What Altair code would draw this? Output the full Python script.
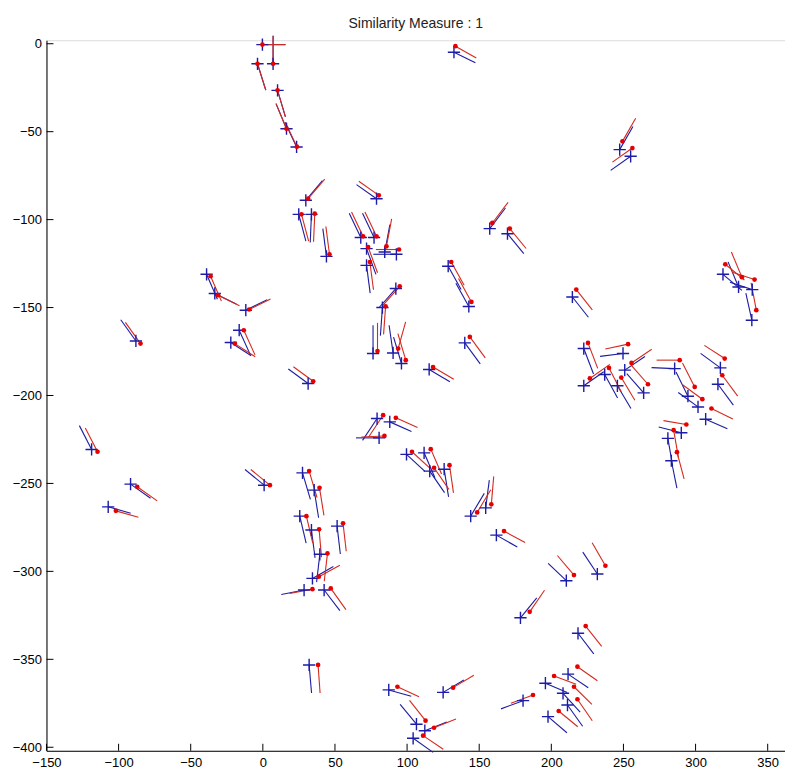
import altair as alt
import pandas as pd

# Minutiae of the template print (blue) and of the query print (red):
# position in pixels of the print image and ridge direction in degrees.
blue_x = [-0.3, 7.1, -3.7, 10.2, 16.4, 23.4,
          -39.0, -33.3, -11.8, -16.4, -22.2, -88.0, -118.7, -91.7, -107.2, 0.9,
          132.5, 29.8, 24.9, 33.7, 44.1, 78.8, 67.9, 77.1, 71.9, 71.9, 84.5, 92.6,
          128.5, 142.8, 157.3, 169.6, 92.2, 82.9, 76.4, 90.3, 96.1, 140.0, 115.3, 31.4,
          247.4, 255.0, 214.6,
          319.0, 329.8, 339.3, 339.0,
          222.5, 222.5, 237.0, 245.8, 249.7, 250.9, 264.0, 285.5, 294.7, 301.7, 307.0, 317.2, 315.5,
          290.1, 280.8, 283.2,
          210.4, 231.9, 178.6, 218.5,
          211.6, 195.9, 208.1, 211.2, 197.7, 180.4,
          79.2, 88.0, 80.6,
          99.6, 111.8, 115.7, 125.7,
          144.1, 154.5, 161.9,
          27.5, 35.6, 25.6, 33.7, 51.5, 39.5, 34.4, 28.6, 42.5, 32.1,
          87.3, 106.5, 112.3, 104.2, 125.0]
blue_y = [-0.5, -11.4, -11.4, -26.5, -48.3, -58.7,
          -131.1, -142.0, -151.5, -162.9, -169.9, -169.0, -230.7, -250.4, -263.3, -251.0,
          -4.8, -89.0, -97.0, -97.0, -120.9, -88.1, -110.2, -110.2, -116.5, -126.0, -118.4, -119.7,
          -126.5, -149.4, -105.1, -108.0, -139.2, -150.0, -176.1, -175.8, -181.8, -170.1, -185.2, -193.2,
          -60.2, -64.0, -144.0,
          -131.1, -138.3, -139.8, -157.2,
          -173.3, -194.5, -188.1, -194.5, -176.1, -185.6, -198.5, -184.7, -200.4, -206.5, -213.5, -184.3, -193.6,
          -221.2, -224.4, -237.1,
          -305.3, -301.5, -326.4, -335.2,
          -358.4, -363.6, -369.3, -376.0, -382.6, -373.5,
          -213.1, -215.0, -224.1,
          -233.5, -232.6, -243.0, -241.9,
          -268.6, -263.9, -279.4,
          -244.0, -253.8, -268.6, -276.5, -274.3, -290.3, -304.0, -310.6, -310.6, -353.2,
          -367.4, -386.9, -390.6, -394.9, -368.8]
blue_angle = [0, 90, -69, -70, 117, 120,
              -62, -22, 22, -61, -28, 131, 122, -30, -13, 146,
              -22, 44, -72, -93, 99, 150, 120, 120, -66, -81, 77, 180,
              -56, 124, 47, -45, 223, -95, 90, 100, 110, -48, -26, 149,
              55, 210, -46,
              -35, 117, 165, 105,
              -65, 30, -56, -54, 186, 29, 137, 178, 121, 149, -20, 149, -48,
              168, -78, -76,
              142, 129, 45, -47,
              -29, -19, -42, -49, -35, 197,
              231, -20, 180,
              -37, -62, -50, -79,
              54, 81, -25,
              -70, -79, -74, -81, -82, -98, 25, 189, -47, -84,
              -13, 135, 18, -30, 26]

red_x = [-0.3, 7.1, -3.7, 10.2, 16.4, 23.6,
         -36.2, -31.0, -9.5, -13.2, -19.4, -84.8, -114.6, -87.1, -101.9, 4.9,
         133.5, 31.4, 26.8, 36.0, 46.2, 80.4, 69.5, 78.8, 73.0, 74.2, 85.7, 94.4,
         130.6, 144.6, 159.1, 171.2, 94.9, 85.1, 79.5, 93.8, 99.1, 143.5, 118.0, 34.9,
         249.3, 256.2, 217.3,
         320.6, 332.1, 340.9, 342.1,
         225.4, 226.7, 240.0, 248.5, 253.2, 255.6, 267.0, 289.0, 299.4, 304.7, 311.0, 320.2, 318.5,
         293.6, 284.8, 287.1,
         215.7, 237.5, 185.0, 223.8,
         218.1, 201.9, 215.7, 218.1, 205.1, 187.3,
         83.4, 92.2, 84.3,
         103.4, 116.4, 118.7, 129.4,
         148.6, 158.4, 167.2,
         32.1, 39.3, 30.2, 39.0, 55.6, 44.8, 38.8, 34.4, 47.1, 38.3,
         93.3, 112.8, 118.7, 111.1, 131.9]
red_y = [-0.5, -11.4, -11.4, -26.5, -48.3, -58.5,
         -132.2, -143.0, -151.1, -162.9, -170.5, -170.5, -232.0, -251.9, -265.6, -251.0,
         -1.4, -88.1, -97.0, -96.6, -119.7, -86.2, -109.5, -109.5, -115.6, -124.1, -115.2, -117.0,
         -124.1, -146.8, -101.9, -105.1, -137.9, -149.3, -174.7, -173.3, -179.9, -166.7, -183.8, -191.9,
         -55.5, -59.3, -139.8,
         -125.4, -132.7, -134.1, -151.5,
         -170.1, -190.3, -184.3, -189.8, -170.8, -181.5, -193.6, -179.9, -195.1, -202.1, -207.4, -179.0, -188.5,
         -216.5, -219.7, -232.2,
         -302.1, -296.8, -323.0, -331.1,
         -354.2, -359.5, -365.6, -372.7, -379.4, -370.3,
         -211.2, -212.7, -223.0,
         -232.0, -230.5, -241.1, -239.6,
         -266.5, -261.9, -277.1,
         -243.0, -252.5, -268.6, -276.1, -272.7, -289.8, -303.0, -310.1, -309.7, -353.2,
         -365.6, -384.9, -388.9, -393.4, -366.1]
red_angle = [0, 90, -69, -70, 117, 120,
             -62, -22, 22, -61, -28, 131, 122, -30, -13, 146,
             -25, 44, -72, -93, 99, 150, 120, 120, -66, -81, 77, 180,
             -56, 124, 47, -45, 223, -95, 90, 71, 110, -48, -26, 149,
             55, 210, -46,
             -34, 117, 165, 103,
             -65, 30, -58, -54, 190, 29, 137, 180, 122, 149, -22, 152, -48,
             172, -78, -72,
             136, 125, 50, -46,
             -30, -17, -39, -50, -34, 197,
             231, -20, 182,
             -37, -62, -50, -80,
             54, 84, -24,
             -70, -79, -74, -84, -82, -98, 24, 189, -49, -85,
             -21, 134, 18, -29, 26]

x_ticks = list(range(-150, 351, 50))
y_ticks = list(range(-400, 1, 50))

SEG = 16  # length of the direction stroke, in data units
W, H = 739, 711
FONT = "Liberation Sans"

xs = alt.Scale(domain=[-150, 362], nice=False, zero=False)
ys = alt.Scale(domain=[-402, 2], nice=False, zero=False)

x_axis = alt.Axis(values=x_ticks, tickSize=0, labelPadding=6, grid=False, title=None,
                  domainColor="black", domainWidth=1, labelColor="black", labelFontSize=13,
                  labelFont=FONT, labelFlush=False)
y_axis = alt.Axis(values=y_ticks, tickSize=0, labelPadding=5, grid=False, title=None,
                  domainColor="black", domainWidth=1, labelColor="black", labelFontSize=13,
                  labelFont=FONT, labelFlush=False)


def X(field):
    return alt.X(field, type="quantitative", scale=xs, axis=x_axis, title=None)


def Y(field):
    return alt.Y(field, type="quantitative", scale=ys, axis=y_axis, title=None)


blue = pd.DataFrame({"x": blue_x, "y": blue_y, "a": blue_angle})
red = pd.DataFrame({"x": red_x, "y": red_y, "a": red_angle})


def strokes(df, color):
    return (
        alt.Chart(df)
        .transform_calculate(
            x2=f"datum.x + {SEG} * cos(datum.a * PI / 180)",
            y2=f"datum.y + {SEG} * sin(datum.a * PI / 180)",
        )
        .mark_rule(color=color, strokeWidth=1.1)
        .encode(x=X("x"), y=Y("y"), x2="x2:Q", y2="y2:Q")
    )


# inward-pointing tick marks
xtick = (
    alt.Chart(pd.DataFrame({"x": x_ticks}))
    .mark_rule(color="black", strokeWidth=1)
    .encode(x=X("x"), y=alt.value(H), y2=alt.value(H - 7))
)
ytick = (
    alt.Chart(pd.DataFrame({"y": y_ticks}))
    .mark_rule(color="black", strokeWidth=1)
    .encode(y=Y("y"), x=alt.value(0), x2=alt.value(7))
)

plus = "M-1,0L1,0M0,-1L0,1"
blue_pts = (
    alt.Chart(blue)
    .mark_point(shape=plus, size=150, filled=False, color="#1c1ca8", strokeWidth=1.4, opacity=1)
    .encode(x=X("x"), y=Y("y"))
)
red_pts = (
    alt.Chart(red)
    .mark_point(shape="circle", size=22, filled=True, color="#e60000", opacity=1)
    .encode(x=X("x"), y=Y("y"))
)

chart = (
    alt.layer(xtick, ytick, strokes(blue, "#1c1ca0"), strokes(red, "#d42a1e"), blue_pts, red_pts)
    .properties(
        width=W,
        height=H,
        title=alt.TitleParams("Similarity Measure : 1", fontSize=14, fontWeight="normal",
                              font=FONT, color="#222222", anchor="middle", offset=4),
        autosize="none",
        padding={"left": 46.5, "top": 40, "right": 0, "bottom": 26},
    )
    .configure_view(stroke=None)
    .configure(background="white")
)

chart.save("out.html", embed_options={"renderer": "svg", "actions": False})
